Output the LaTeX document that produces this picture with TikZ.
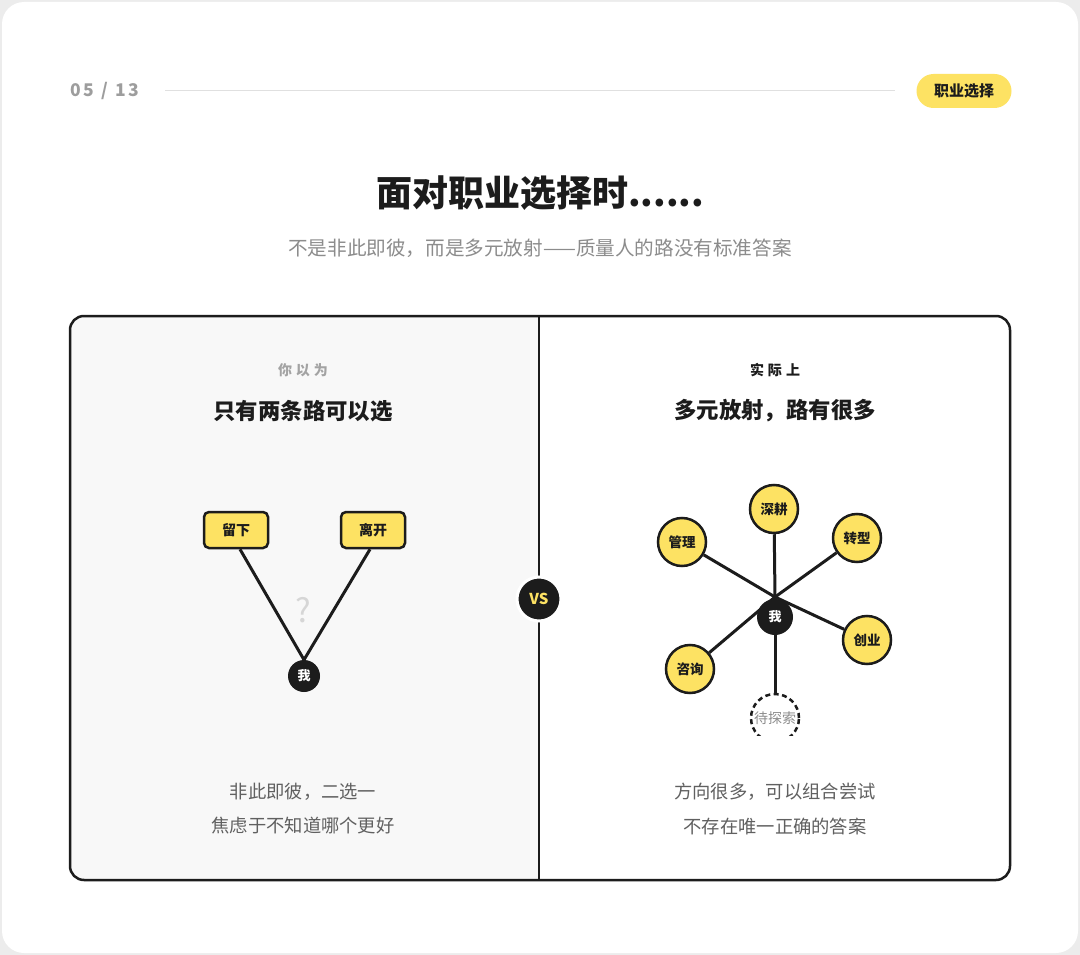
\documentclass[tikz,border=0pt]{standalone}
\usepackage{fontspec}
\setmainfont{Noto Sans CJK SC}
\usepackage{xcolor}
\usetikzlibrary{positioning}
\definecolor{ink}{HTML}{1C1C1C}
\definecolor{sun}{HTML}{FDE263}
\definecolor{mist}{HTML}{8C8C8C}
\definecolor{panel}{HTML}{F8F8F8}
\definecolor{paper}{HTML}{ECECEC}
\newcommand{\pxsize}[1]{\fontsize{#1}{#1}\selectfont}

\begin{document}
\begin{tikzpicture}[
  x=1pt, y=-1pt,
  kicker/.style={font=\pxsize{14}\bfseries, inner sep=0pt},
  headline/.style={font=\pxsize{22.4}\bfseries, text=ink, inner sep=0pt},
  caption/.style={font=\pxsize{18.3}, text=ink!70, align=center, inner sep=0pt},
  choicebox/.style={rectangle, draw=ink, line width=2.5pt, fill=sun, rounded corners=5pt, minimum width=64pt, minimum height=36pt, font=\pxsize{14}\bfseries, text=ink},
  pathnode/.style={circle, draw=ink, line width=2.5pt, fill=sun, minimum size=48pt, inner sep=0pt, font=\pxsize{13.5}\bfseries, text=ink},
  selfnode/.style={circle, fill=ink, minimum size=#1, inner sep=0pt, font=\pxsize{13}\bfseries, text=white},
  spoke/.style={ink, line width=3pt}
]
  \useasboundingbox (0,0) rectangle (1080,955);

  % The card sits on a pale grey page.
  \fill[paper] (0,0) rectangle (1080,955);
  \fill[white, rounded corners=22pt] (2,2) rectangle (1078,953);

  % Page counter, rule and tag along the top.
  \node[font=\pxsize{17.5}\bfseries, text=mist!85, anchor=west, inner sep=0pt] (count) at (70,91) {0\hspace{3pt}5\hspace{7pt}/\hspace{7pt}1\hspace{3pt}3};
  \node[rectangle, fill=sun, rounded corners=17pt, minimum width=95pt, minimum height=34pt, font=\pxsize{15}\bfseries, text=ink] (tag) at (964,91) {职业选择};
  \draw[black!12, line width=1pt] (165,91) -- (895,91);

  % Title block.
  \node[font=\pxsize{36}\bfseries, text=ink, inner sep=0pt] (title) at (540,193) {面对职业选择时......};
  \node[font=\pxsize{19.6}, text=mist, inner sep=0pt] (subtitle) at (540,248) {不是非此即彼，而是多元放射——质量人的路没有标准答案};

  % The two halves of the comparison.
  \begin{scope}
    \clip[rounded corners=14pt] (70,316) rectangle (1010,880);
    \fill[panel] (70,316) rectangle (539,880);
  \end{scope}
  \draw[ink, line width=2.5pt, rounded corners=14pt] (70,316) rectangle (1010,880);
  \draw[ink, line width=2pt] (539,316) -- (539,880);

  % Left half: only two roads.
  \node[kicker, text=mist!80] (lkick) at (303,370) {你\hspace{4pt}以\hspace{4pt}为};
  \node[headline] (lhead) at (303,411) {只有两条路可以选};

  \node[choicebox] (stay) at (236,530) {留下};
  \node[choicebox] (leave) at (373,530) {离开};
  \node[selfnode=32pt] (meleft) at (304,676) {我};
  \draw[spoke] ([xshift=4pt]stay.south) -- (meleft.north);
  \draw[spoke] ([xshift=-3pt]leave.south) -- (meleft.north);
  \node[font=\pxsize{33}, text=black!16, inner sep=0pt] (doubt) at (303,610) {?};

  \node[caption] (lnote1) at (303,792) {非此即彼，二选一};
  \node[caption] (lnote2) at (303,826) {焦虑于不知道哪个更好};

  % Right half: many roads fanning out.
  \node[kicker, text=ink] (rkick) at (775,370) {实\hspace{4pt}际\hspace{4pt}上};
  \node[headline] (rhead) at (775,411) {多元放射，路有很多};

  \coordinate (hub) at (775,597);
  \node[pathnode] (deep) at (774,509) {深耕};
  \node[pathnode] (manage) at (682,542) {管理};
  \node[pathnode] (shift) at (857,538) {转型};
  \node[pathnode] (found) at (867,640) {创业};
  \node[pathnode] (advise) at (690,669) {咨询};
  \begin{scope}
    \clip (700,600) rectangle (850,735);
    \node[pathnode, fill=white, dash pattern=on 5pt off 3.5pt, font=\pxsize{14}, text=mist] (open) at (775,718) {待探索};
  \end{scope}

  \foreach \road in {deep, manage, shift, found, advise, open}
    \draw[spoke] (hub) -- (\road);
  \node[selfnode=36pt] (meright) at (775,617) {我};

  \node[caption] (rnote1) at (775,792) {方向很多，可以组合尝试};
  \node[caption] (rnote2) at (775,826) {不存在唯一正确的答案};

  % Badge on the divider.
  \node[circle, fill=ink, draw=white, line width=3pt, minimum size=44pt, inner sep=0pt, font=\pxsize{15}\bfseries, text=sun] (versus) at (539,599) {VS};
\end{tikzpicture}
\end{document}
